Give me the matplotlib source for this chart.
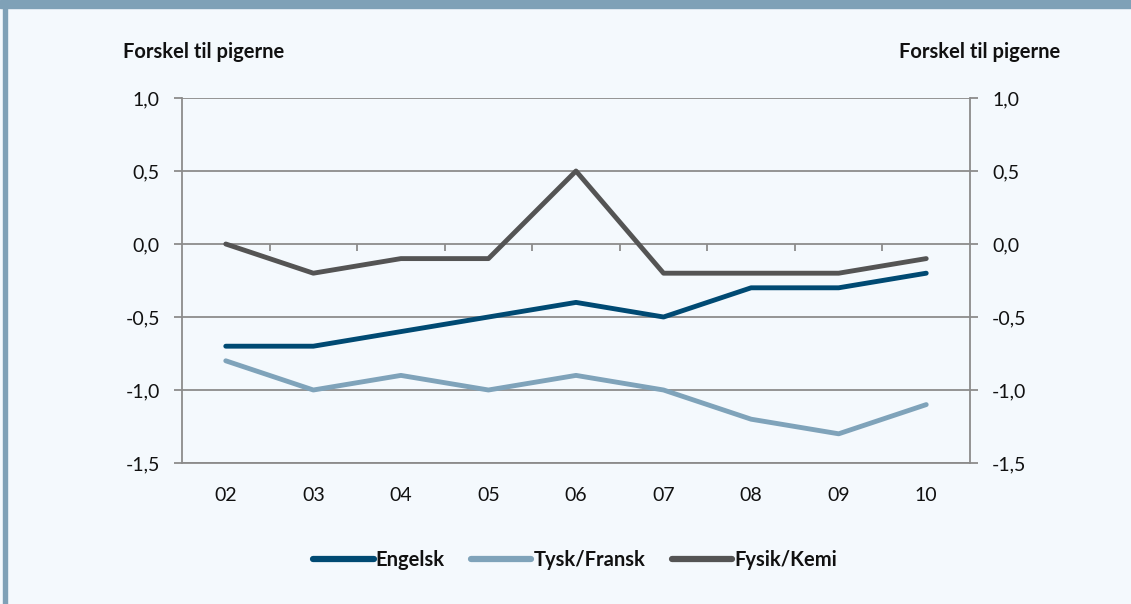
import matplotlib.pyplot as plt
import numpy as np

plt.rcParams['font.family'] = ['Lato', 'DejaVu Sans']

years = ["02", "03", "04", "05", "06", "07", "08", "09", "10"]
engelsk = [-0.7, -0.7, -0.6, -0.5, -0.4, -0.5, -0.3, -0.3, -0.2]
tysk_fransk = [-0.8, -1.0, -0.9, -1.0, -0.9, -1.0, -1.2, -1.3, -1.1]
fysik_kemi = [0.0, -0.2, -0.1, -0.1, 0.5, -0.2, -0.2, -0.2, -0.1]
y_ticks = [1.0, 0.5, 0.0, -0.5, -1.0, -1.5]

bg = '#F4F9FD'
frame = '#7FA1B7'
grid = '#8C8C8C'

fig = plt.figure(figsize=(11.31, 6.04), dpi=100, facecolor=bg)

# top band and left border of the box
fig.patches.append(plt.Rectangle((0, 1 - 8 / 604), 1, 8 / 604, transform=fig.transFigure,
                                 color=frame, zorder=0))
fig.patches.append(plt.Rectangle((3 / 1131, 0), 4 / 1131, 1, transform=fig.transFigure,
                                 color=frame, zorder=0))

pos = [182 / 1131, 1 - 463 / 604, (970 - 182) / 1131, (463 - 98) / 604]
ax = fig.add_axes(pos)
ax.set_facecolor(bg)

x = np.arange(len(years))
ax.plot(x, engelsk, color='#004A73', lw=3.5, label='Engelsk', solid_capstyle='round', zorder=3)
ax.plot(x, tysk_fransk, color='#7FA3BA', lw=3.5, label='Tysk/Fransk', solid_capstyle='round', zorder=3)
ax.plot(x, fysik_kemi, color='#545454', lw=3.5, label='Fysik/Kemi', solid_capstyle='round', zorder=3)

ax.set_xlim(-0.5, len(years) - 0.5)
ax.set_ylim(-1.5, 1.0)
ax.set_yticks(y_ticks)
ax.set_yticklabels([f"{v:.1f}".replace('.', ',') for v in y_ticks])
ax.yaxis.grid(True, color=grid, lw=1.3)
ax.set_axisbelow(True)
ax.tick_params(axis='y', which='both', left=True, right=True, labelleft=True, labelright=True,
               length=6, width=1.3, color=grid, labelsize=14, pad=10, labelcolor='#111111')

ax.set_xticks(x)
ax.set_xticklabels(years)
ax.tick_params(axis='x', length=0, labelsize=14, pad=17, labelcolor='#111111')

for s in ['left', 'right', 'bottom']:
    ax.spines[s].set_color(grid)
    ax.spines[s].set_linewidth(1.3)
ax.spines['top'].set_visible(False)

# category-boundary ticks hanging below the zero line
y0, y1 = ax.get_ylim()
zf = (0 - y0) / (y1 - y0)
tk = fig.add_axes([pos[0], pos[1] + pos[3] * zf, pos[2], pos[3] * (1 - zf)])
tk.patch.set_visible(False)
tk.set_xlim(ax.get_xlim())
tk.set_xticks(x[:-1] + 0.5)
tk.set_xticklabels([])
tk.set_yticks([])
tk.tick_params(axis='x', length=5, width=1.3, color=grid, direction='out')
for s in tk.spines.values():
    s.set_visible(False)

fig.text(204 / 1131, 1 - 52 / 604, 'Forskel til pigerne', ha='center', va='center',
         fontsize=14.5, fontweight='bold', color='#111111')
fig.text(980 / 1131, 1 - 52 / 604, 'Forskel til pigerne', ha='center', va='center',
         fontsize=14.5, fontweight='bold', color='#111111')

leg = fig.legend(loc='center', bbox_to_anchor=(575 / 1131, 1 - 560 / 604), ncol=3,
                 frameon=False, handlelength=3.0, handletextpad=0.1, columnspacing=1.3,
                 prop={'weight': 'bold', 'size': 14.5})
for t in leg.get_texts():
    t.set_color('#111111')
for h in leg.get_lines():
    h.set_linewidth(4.5)

fig.savefig('out.png', dpi=100, facecolor=bg)
